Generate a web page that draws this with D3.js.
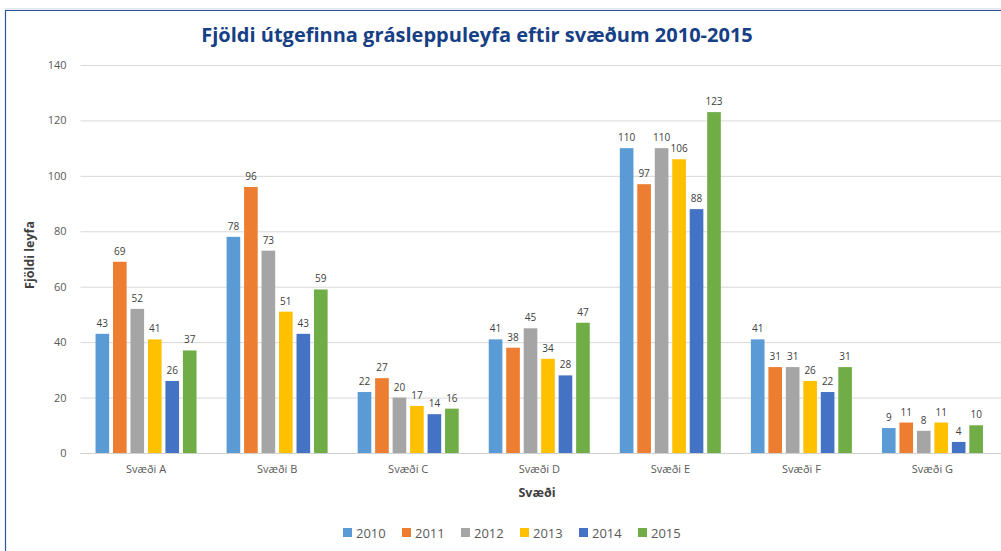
<!DOCTYPE html>
<html><head><meta charset="utf-8">
<script src="https://cdnjs.cloudflare.com/ajax/libs/d3/7.8.5/d3.min.js"></script>
<style>body{margin:0;background:#fff;}svg{display:block;}</style>
</head><body>
<svg id="c" width="1001" height="551"></svg>
<script>
const categories = ["Svæði A","Svæði B","Svæði C","Svæði D","Svæði E","Svæði F","Svæði G"];
const years = ["2010","2011","2012","2013","2014","2015"];
const s2010 = [43,78,22,41,110,41,9];
const s2011 = [69,96,27,38,97,31,11];
const s2012 = [52,73,20,45,110,31,8];
const s2013 = [41,51,17,34,106,26,11];
const s2014 = [26,43,14,28,88,22,4];
const s2015 = [37,59,16,47,123,31,10];
const yTicks = [0,20,40,60,80,100,120,140];
const colors = ["#5B9BD5","#ED7D31","#A5A5A5","#FFC000","#4472C4","#70AD47"];
const series = [s2010,s2011,s2012,s2013,s2014,s2015];

const svg = d3.select("#c");
const font = "'Open Sans', Calibri, sans-serif";

// frame
svg.append("line").attr("x1",5).attr("x2",1001).attr("y1",9).attr("y2",9).attr("stroke","#C9D3E3").attr("stroke-width",1);
svg.append("line").attr("x1",5).attr("x2",1001).attr("y1",10.5).attr("y2",10.5).attr("stroke","#2F5597").attr("stroke-width",1.2);
svg.append("line").attr("x1",5.5).attr("x2",5.5).attr("y1",10).attr("y2",551).attr("stroke","#2F5597").attr("stroke-width",1.2);

const pL = 80.5, pR = 998, pT = 65, pB = 453;
const x0 = d3.scaleBand().domain(categories).range([pL,pR]).paddingInner(0.2).paddingOuter(0.1);
const x1 = d3.scaleBand().domain(years).range([0,x0.bandwidth()]).paddingInner(0.22).paddingOuter(0.11);
const y = d3.scaleLinear().domain([0,140]).range([pB,pT]);

// grid
const yAxis = d3.axisLeft(y).tickValues(yTicks).tickSize(-(1001-pL)).tickPadding(14);
const gy = svg.append("g").attr("transform",`translate(${pL},0)`).call(yAxis);
gy.select(".domain").remove();
gy.selectAll(".tick line").attr("stroke","#D9D9D9").attr("stroke-width",1);
gy.selectAll(".tick text").attr("fill","#595959").style("font-family",font).style("font-size","11px");

// bars
const groups = svg.append("g").selectAll("g").data(categories).join("g")
  .attr("transform",c=>`translate(${x0(c)},0)`);
groups.selectAll("rect").data((c,i)=>years.map((yr,j)=>({yr,j,v:series[j][i]}))).join("rect")
  .attr("x",d=>x1(d.yr)).attr("width",x1.bandwidth())
  .attr("y",d=>y(d.v)).attr("height",d=>y(0)-y(d.v))
  .attr("fill",d=>colors[d.j]);
groups.selectAll("text").data((c,i)=>years.map((yr,j)=>({yr,j,v:series[j][i]}))).join("text")
  .attr("x",d=>x1(d.yr)+x1.bandwidth()/2).attr("y",d=>y(d.v)-7)
  .attr("text-anchor","middle").attr("fill","#404040")
  .style("font-family",font).style("font-size","10px").text(d=>d.v);

// baseline
svg.append("line").attr("x1",pL).attr("x2",1001).attr("y1",y(0)+0.5).attr("y2",y(0)+0.5).attr("stroke","#D0D0D0");

// x axis labels
const xAxis = d3.axisBottom(x0).tickSize(0).tickPadding(12);
const gx = svg.append("g").attr("transform",`translate(0,${pB})`).call(xAxis);
gx.select(".domain").remove();
gx.selectAll(".tick text").attr("fill","#595959").style("font-family",font).style("font-size","11px");

// titles
svg.append("text").attr("x",477).attr("y",42).attr("text-anchor","middle")
  .attr("fill","#163F86").style("font-family",font).style("font-weight","bold").style("font-size","20px")
  .text("Fjöldi útgefinna grásleppuleyfa eftir svæðum 2010-2015");
svg.append("text").attr("transform","translate(34,255) rotate(-90)").attr("text-anchor","middle")
  .attr("fill","#404040").style("font-family",font).style("font-weight","bold").style("font-size","12.5px")
  .text("Fjöldi leyfa");
svg.append("text").attr("x",537).attr("y",497).attr("text-anchor","middle")
  .attr("fill","#404040").style("font-family",font).style("font-weight","bold").style("font-size","12.5px")
  .text("Svæði");

// legend
const lg = svg.append("g").selectAll("g").data(years).join("g")
  .attr("transform",(d,i)=>`translate(${343+i*59},528)`);
lg.append("rect").attr("width",9).attr("height",9).attr("fill",(d,i)=>colors[i]);
lg.append("text").attr("x",13).attr("y",9.5).attr("fill","#595959")
  .style("font-family",font).style("font-size","13px").text(d=>d);
</script>
</body></html>
